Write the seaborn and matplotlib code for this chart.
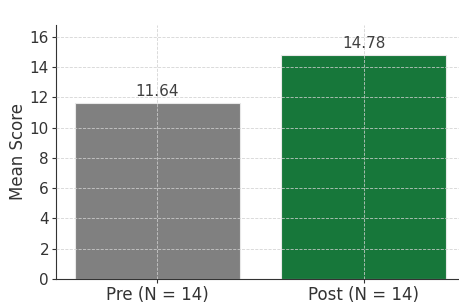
import pandas as pd
import seaborn as sns
import matplotlib.pyplot as plt

sns.set_style('ticks')

groups = ['Pre (N = 14)', 'Post (N = 14)']
mean_scores = [11.64, 14.78]
bar_colors = ['#808080', '#17773a']

data = pd.DataFrame({'group': groups, 'score': mean_scores})

fig = plt.figure(figsize=(4.59, 3.04), dpi=100)
ax = fig.add_axes([56 / 459, 25 / 304, 409 / 459, 254 / 304])

sns.barplot(x='group', y='score', hue='group', data=data, ax=ax,
            palette=bar_colors, legend=False, width=0.8, saturation=1,
            edgecolor='#e8e8e8', linewidth=0.8)

for i, v in enumerate(mean_scores):
    ax.text(i, v + 0.25, f'{v:.2f}', ha='center', va='bottom',
            fontsize=11, color='#404040')

ax.set_ylim(0, max(mean_scores) + 2)
ax.set_xlim(-0.49, 1.49)
ax.set_yticks(range(0, 17, 2))
ax.grid(True, linestyle='--', linewidth=0.6, color='#d0d0d0', alpha=0.9)
ax.set_axisbelow(False)
ax.set_xlabel('')
ax.set_ylabel('Mean Score', fontsize=12, color='#333333', labelpad=2)
ax.tick_params(labelsize=11, colors='#333333', length=3)
ax.tick_params(axis='y', pad=2)
ax.tick_params(axis='x', labelsize=12, pad=2)
sns.despine(ax=ax)
for s in ['left', 'bottom']:
    ax.spines[s].set_color('#333333')

plt.savefig('out.png', dpi=100)
